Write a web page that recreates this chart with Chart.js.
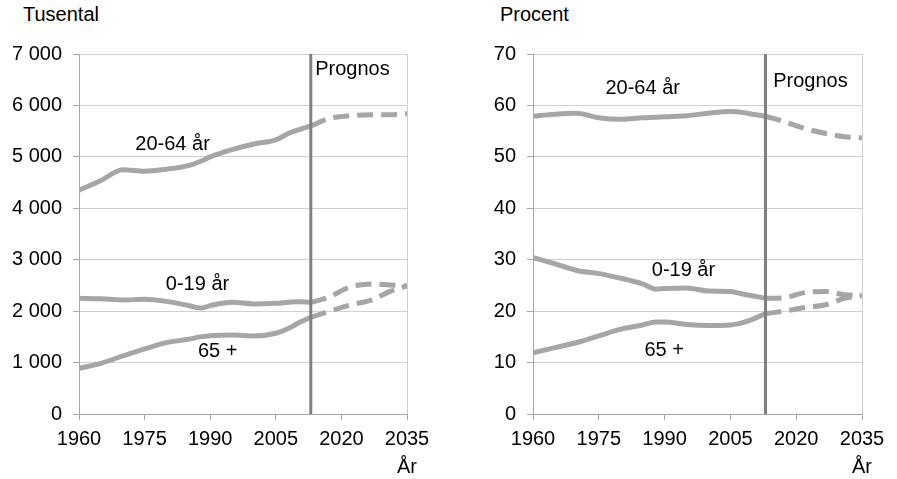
<!DOCTYPE html>
<html>
<head>
<meta charset="utf-8">
<script src="https://cdn.jsdelivr.net/npm/chart.js@4"></script>
<style>
  body { margin: 0; background: #fff; font-family: "Liberation Sans", Arial, sans-serif; }
  #wrap { position: relative; width: 897px; height: 479px; }
  canvas { position: absolute; top: 0; }
  .title { position: absolute; top: 3px; font-size: 20px; color: #000; }
</style>
</head>
<body>
<div id="wrap">
  <div class="title" style="left:23px">Tusental</div>
  <div class="title" style="left:500px">Procent</div>
  <canvas id="left" width="448" height="479" style="left:0"></canvas>
  <canvas id="right" width="449" height="479" style="left:448px"></canvas>
</div>
<script>
// years
const histYears = [1960, 1965, 1970, 1975, 1980, 1985, 1988, 1990, 1995, 2000, 2005, 2008, 2010, 2013];
const progYears = [2013, 2017, 2022, 2027, 2031, 2035];
const progStart = 2013;

// Tusental
const adultsK    = [4350, 4540, 4750, 4720, 4760, 4830, 4920, 5000, 5140, 5250, 5330, 5460, 5520, 5600];
const adultsKP   = [5600, 5740, 5800, 5820, 5820, 5840];
const youngK     = [2250, 2240, 2218, 2230, 2190, 2110, 2060, 2107, 2173, 2140, 2153, 2175, 2185, 2170];
const youngKP    = [2170, 2270, 2470, 2530, 2510, 2490];
const oldK       = [889, 986, 1128, 1265, 1387, 1453, 1504, 1523, 1537, 1518, 1570, 1667, 1764, 1881];
const oldKP      = [1881, 1990, 2120, 2218, 2380, 2490];

// Procent
const adultsPct  = [57.9, 58.3, 58.5, 57.6, 57.3, 57.6, 57.7, 57.8, 58.0, 58.5, 58.8, 58.6, 58.3, 57.9];
const adultsPctP = [57.9, 56.9, 55.5, 54.5, 53.9, 53.7];
const youngPct   = [30.4, 29.2, 27.9, 27.3, 26.4, 25.3, 24.3, 24.4, 24.5, 23.9, 23.8, 23.3, 23.0, 22.5];
const youngPctP  = [22.5, 22.6, 23.6, 23.8, 23.2, 23.1];
const oldPct     = [11.9, 12.9, 13.9, 15.2, 16.5, 17.3, 17.9, 17.9, 17.4, 17.2, 17.3, 17.8, 18.4, 19.5];
const oldPctP    = [19.5, 20.0, 20.7, 21.3, 22.5, 23.0];

const FONT = '"Liberation Sans", Arial, sans-serif';
const LINE = '#a6a6a6';

const pts = (xs, ys) => xs.map((x, i) => ({ x: x, y: ys[i] }));

function seriesSets(hist, prog) {
  const out = [];
  hist.forEach(h => out.push({ data: h, borderColor: LINE, borderWidth: 5, order: 1 }));
  prog.forEach(p => out.push({ data: p, borderColor: LINE, borderWidth: 5, borderDash: [16, 8], order: 1 }));
  return out;
}

// text labels drawn at data coordinates
const labelPlugin = {
  id: 'labels',
  afterDatasetsDraw(chart, args, opts) {
    const { ctx, scales: { x, y } } = chart;
    ctx.save();
    ctx.font = '20px ' + FONT;
    ctx.fillStyle = '#000';
    ctx.textBaseline = 'middle';
    opts.items.forEach(it => {
      ctx.textAlign = it.align || 'center';
      ctx.fillText(it.text, x.getPixelForValue(it.x), y.getPixelForValue(it.y));
    });
    ctx.textAlign = 'center';
    ctx.fillText('År', x.getPixelForValue(2035), chart.chartArea.bottom + 53);
    ctx.restore();
  }
};

function makeChart(id, yMax, yStep, yAxisW, rightPad, datasets, items, fmt) {
  return new Chart(document.getElementById(id), {
    type: 'line',
    data: {
      datasets: [
        { data: [{ x: progStart, y: 0 }, { x: progStart, y: yMax }], borderColor: '#7f7f7f', borderWidth: 3, order: 0 },
        ...datasets
      ]
    },
    options: {
      responsive: false,
      animation: false,
      layout: { padding: { top: 54, right: rightPad, left: 0, bottom: 0 } },
      elements: { point: { radius: 0 }, line: { tension: 0.4, cubicInterpolationMode: 'monotone', fill: false } },
      plugins: { legend: { display: false }, tooltip: { enabled: false }, labels: { items: items } },
      scales: {
        x: {
          type: 'linear', min: 1960, max: 2035,
          afterFit: s => { s.height = 65; },
          ticks: { stepSize: 15, autoSkip: false, maxRotation: 0, padding: 7, color: '#000',
                   font: { family: FONT, size: 20 }, callback: v => String(v) },
          grid: { color: c => (c.tick && c.tick.value === 2035 ? '#d0d0d0' : 'rgba(0,0,0,0)'),
                  tickColor: '#a6a6a6', tickLength: 6, lineWidth: 1 },
          border: { color: '#a6a6a6', width: 1 }
        },
        y: {
          min: 0, max: yMax,
          afterFit: s => { s.width = yAxisW; },
          ticks: { stepSize: yStep, padding: 11, color: '#000', font: { family: FONT, size: 20 }, callback: fmt },
          grid: { color: '#d0d0d0', tickColor: '#a6a6a6', tickLength: 6, lineWidth: 1 },
          border: { color: '#a6a6a6', width: 1 }
        }
      }
    },
    plugins: [labelPlugin]
  });
}

const thousands = v => String(v).replace(/\B(?=(\d{3})+(?!\d))/g, ' ');

makeChart('left', 7000, 1000, 79, 41,
  seriesSets(
    [pts(histYears, adultsK), pts(histYears, youngK), pts(histYears, oldK)],
    [pts(progYears, adultsKP), pts(progYears, youngKP), pts(progYears, oldKP)]),
  [
    { text: '20-64 år', x: 1981.4, y: 5250 },
    { text: '0-19 år', x: 1987.1, y: 2510 },
    { text: '65 +', x: 1991.7, y: 1216 },
    { text: 'Prognos', x: 2014, y: 6700, align: 'left' }
  ], thousands);

makeChart('right', 70, 10, 85, 35,
  seriesSets(
    [pts(histYears, adultsPct), pts(histYears, youngPct), pts(histYears, oldPct)],
    [pts(progYears, adultsPctP), pts(progYears, youngPctP), pts(progYears, oldPctP)]),
  [
    { text: '20-64 år', x: 1985, y: 63.3 },
    { text: '0-19 år', x: 1994.3, y: 27.9 },
    { text: '65 +', x: 1989.9, y: 12.3 },
    { text: 'Prognos', x: 2014.75, y: 64.6, align: 'left' }
  ], v => String(v));
</script>
</body>
</html>
